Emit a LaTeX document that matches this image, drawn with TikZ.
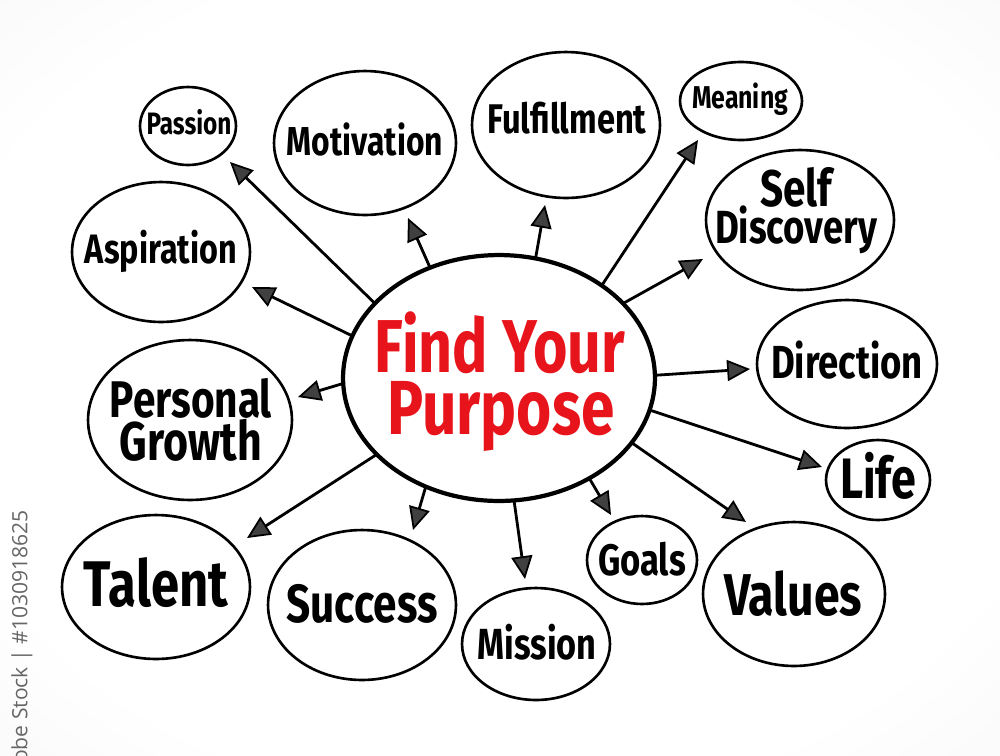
\documentclass[tikz,border=0pt]{standalone}
\usepackage{fontspec}
\setmainfont{Fira Sans}
\newfontfamily\wmfont{Open Sans}
\usetikzlibrary{arrows.meta,shapes.geometric}
\newlength\pxu \setlength\pxu{0.02cm}
\newcommand\tx[2]{\scalebox{1}[1.27]{\resizebox{#1\pxu}{!}{\bfseries #2}}}
\definecolor{redtxt}{HTML}{E8141B}
\pgfdeclareradialshading{vignette}{\pgfpoint{0bp}{0bp}}{color(0bp)=(white); color(28bp)=(white); color(72bp)=(black!11)}
\begin{document}
\begin{tikzpicture}[x=0.02cm,y=-0.02cm,
  bub/.style args={#1/#2}{ellipse,draw=black,line width=1.5pt,minimum width=#1*0.04cm,minimum height=#2*0.04cm,inner sep=0pt,outer sep=0pt},
  lbl/.style={anchor=base,inner sep=0pt,outer sep=0pt},
  arr/.style={line width=1.6pt,-{Triangle[length=13pt,width=12pt,fill=black!75,line width=1pt]}},
]
\useasboundingbox (0,0) rectangle (1000,755);
\shade[shading=vignette] (0,0) rectangle (1000,755);

% watermark id
\node[rotate=90,anchor=east,inner sep=0pt,text=black!60,font=\wmfont\fontsize{12}{12}\selectfont] (wm) at (22,510) {Adobe Stock | \#1030918625};

% central node
\node[bub=156/123,line width=2.4pt] (c) at (499,378) {};
\node[lbl,text=redtxt] (t1) at (500,372) {\tx{250}{Find Your}};
\node[lbl,text=redtxt] (t2) at (501,434) {\tx{227}{Purpose}};

% bubbles
\node[bub=48/39] (passion) at (188,126) {};
\node[bub=91/72] (motiv) at (365,143) {};
\node[bub=94/73] (fulfil) at (566,125) {};
\node[bub=61/39] (meaning) at (741,101) {};
\node[bub=94/70] (selfd) at (800,220) {};
\node[bub=89/70] (aspir) at (161,252) {};
\node[bub=102/80] (pgrowth) at (190,420) {};
\node[bub=90/64] (direct) at (847,364) {};
\node[bub=52/40] (life) at (878,480) {};
\node[bub=94/72] (talent) at (156,587) {};
\node[bub=94/75] (success) at (362,605) {};
\node[bub=74/56] (mission) at (536,644) {};
\node[bub=55/44] (goals) at (642,560) {};
\node[bub=91/72] (values) at (794,594) {};

% labels
\node[lbl] (lpassion) at (189,134) {\tx{85}{Passion}};
\node[lbl] (lmotiv) at (365,155) {\tx{156}{Motivation}};
\node[lbl] (lfulfil) at (567,133) {\tx{159}{Fulfillment}};
\node[lbl] (lmeaning) at (740,108) {\tx{96}{Meaning}};
\node[lbl] (lself) at (796,206) {\tx{72}{Self}};
\node[lbl] (ldisc) at (796,243) {\tx{162}{Discovery}};
\node[lbl] (laspir) at (161,263) {\tx{152}{Aspiration}};
\node[lbl] (lpers) at (191,417) {\tx{162}{Personal}};
\node[lbl] (lgrow) at (191,460) {\tx{142}{Growth}};
\node[lbl] (ldirect) at (847,378) {\tx{152}{Direction}};
\node[lbl] (llife) at (878,498) {\tx{76}{Life}};
\node[lbl] (ltalent) at (156,606) {\tx{144}{Talent}};
\node[lbl] (lsuccess) at (362,622) {\tx{151}{Success}};
\node[lbl] (lmission) at (537,659) {\tx{119}{Mission}};
\node[lbl] (lgoals) at (642,575) {\tx{88}{Goals}};
\node[lbl] (lvalues) at (793,615) {\tx{138}{Values}};

% arrow tips
\coordinate (apassion) at (230,162);
\coordinate (amotiv) at (408,218);
\coordinate (afulfil) at (545,205);
\coordinate (ameaning) at (698,140);
\coordinate (aselfd) at (703,259);
\coordinate (aaspir) at (252,287);
\coordinate (apgrowth) at (298,397);
\coordinate (adirect) at (750,369);
\coordinate (alife) at (822,467);
\coordinate (avalues) at (746,522);
\coordinate (agoals) at (611,515);
\coordinate (amission) at (525,579);
\coordinate (asuccess) at (413,530);
\coordinate (atalent) at (247,538);

\foreach \a/\t in {149/apassion,122/amotiv,73/afulfil,42/ameaning,31/aselfd,164/aaspir,182/apgrowth,1/adirect,-12/alife,-26/avalues,-48/agoals,-83/amission,-124/asuccess,-148/atalent}
  \draw[arr] (c.\a) -- (\t);
\end{tikzpicture}
\end{document}
